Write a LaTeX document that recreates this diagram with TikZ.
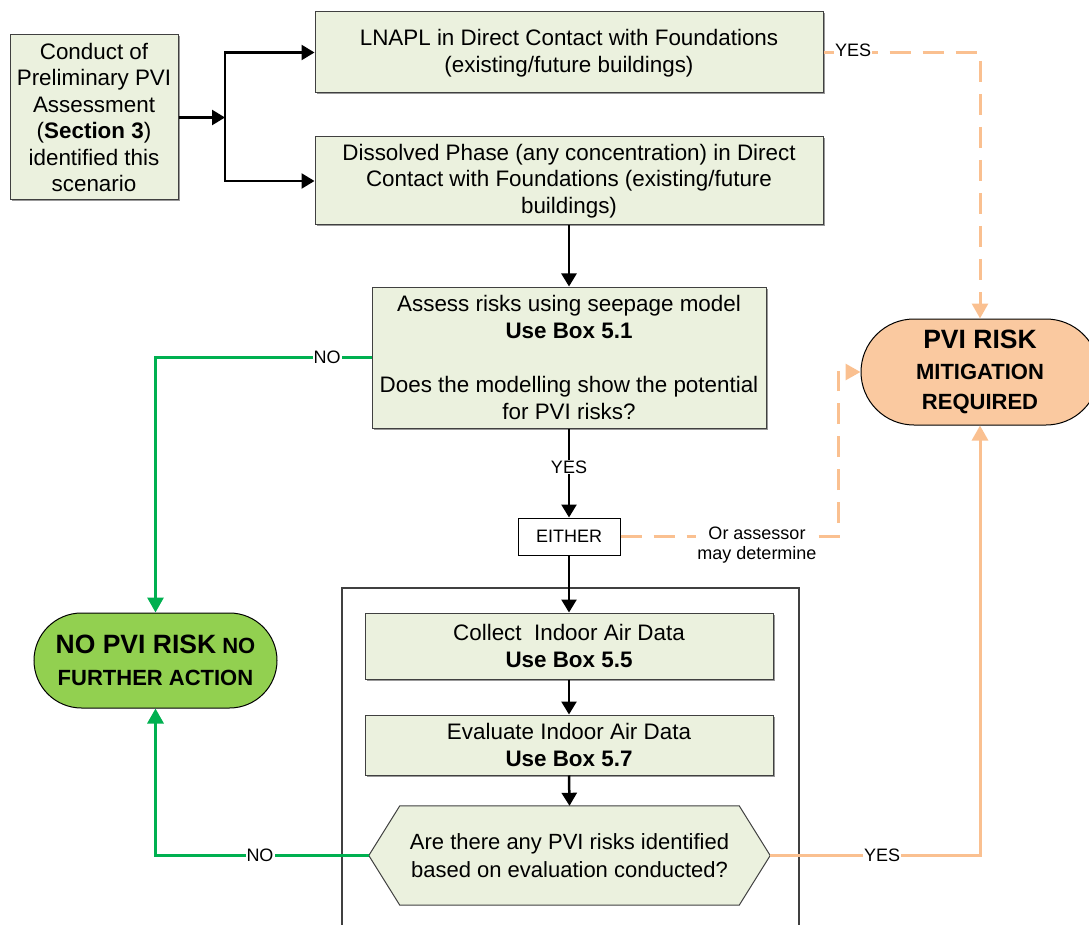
\documentclass[tikz,border=0pt]{standalone}
\usepackage{fontspec}
\setmainfont{Liberation Sans}
\usetikzlibrary{arrows.meta,backgrounds,shadows}
\definecolor{boxfill}{RGB}{235,241,222}
\definecolor{boxline}{RGB}{64,64,64}
\definecolor{okgreen}{RGB}{0,176,80}
\definecolor{riskline}{RGB}{250,192,144}
\definecolor{riskfill}{RGB}{250,201,160}
\definecolor{nofill}{RGB}{146,208,80}

\begin{document}
\begin{tikzpicture}[x=1pt,y=-1pt,
  boxshadow/.style={drop shadow={shadow xshift=1.5pt, shadow yshift=-1.5pt,
    fill=black!40, opacity=1}},
  stepbox/.style={draw=boxline, line width=1pt, fill=boxfill, align=center,
    inner sep=0pt, boxshadow, font=\fontsize{22.4}{26.5}\selectfont},
  plainbox/.style={draw=black, line width=1pt, fill=white, align=center,
    inner sep=0pt, font=\fontsize{18}{21}\selectfont},
  endnode/.style={draw=black, line width=1pt, align=center, inner sep=0pt},
  lbl/.style={fill=white, inner sep=1pt, font=\fontsize{18}{21}\selectfont},
  arr/.style={draw=black, line width=2.5pt, -{Triangle[length=13pt,width=15pt]}},
  greenarr/.style={draw=okgreen, line width=3pt, -{Triangle[length=15pt,width=16pt]}},
  riskarr/.style={draw=riskline, line width=3pt, -{Triangle[length=15pt,width=16pt]}},
  riskdash/.style={riskarr, dash pattern=on 21pt off 12pt},
]
\useasboundingbox (0,0) rectangle (1089,925);

% container around the indoor air steps
\draw[boxline, line width=1.2pt] (342,930) -- (342,588) -- (799,588) -- (799,930);

% process boxes
\node[stepbox, minimum width=168pt, minimum height=165pt] (start) at (94,117.5)
  {Conduct of\\Preliminary PVI\\Assessment\\(\textbf{Section 3})\\identified this\\scenario};
\node[stepbox, minimum width=508pt, minimum height=81pt, text depth=3pt] (lnapl) at (569,52.5)
  {LNAPL in Direct Contact with Foundations\\(existing/future buildings)};
\node[stepbox, minimum width=508pt, minimum height=88pt] (dissolved) at (569,181)
  {Dissolved Phase (any concentration) in Direct\\Contact with Foundations (existing/future\\buildings)};
\node[stepbox, minimum width=394pt, minimum height=141pt] (seepage) at (569,357.5)
  {Assess risks using seepage model\\\textbf{Use Box 5.1}\\[28pt]Does the modelling show the potential\\for PVI risks?};
\node[plainbox, minimum width=102pt, minimum height=37pt] (either) at (569,536.5) {EITHER};
\node[stepbox, minimum width=408pt, minimum height=66pt] (collect) at (569,646)
  {Collect\ \ Indoor Air Data\\\textbf{Use Box 5.5}};
\node[stepbox, minimum width=408pt, minimum height=60pt] (evaluate) at (569,745)
  {Evaluate Indoor Air Data\\\textbf{Use Box 5.7}};
\node[align=center, inner sep=0pt, minimum width=401pt, minimum height=99pt,
  font=\fontsize{22}{28}\selectfont] (hex) at (569.5,855.5)
  {Are there any PVI risks identified\\based on evaluation conducted?};
\begin{pgfonlayer}{background}
  \draw[boxline, line width=1pt, fill=boxfill]
    ([xshift=31pt]hex.north west) -- ([xshift=-31pt]hex.north east) -- (hex.east)
    -- ([xshift=-31pt]hex.south east) -- ([xshift=31pt]hex.south west) -- (hex.west) -- cycle;
\end{pgfonlayer}

% outcomes
\node[endnode, fill=riskfill, minimum width=238pt, minimum height=106pt,
  rounded corners=53pt, font=\fontsize{22}{30.5}\selectfont\bfseries] (pvi) at (980,372)
  {{\fontsize{26.5}{30.5}\selectfont PVI RISK}\\MITIGATION\\REQUIRED};
\node[endnode, fill=nofill, minimum width=243pt, minimum height=95pt,
  rounded corners=47.5pt, font=\fontsize{22}{32}\selectfont\bfseries] (nopvi) at (155.5,660.5)
  {{\fontsize{26.5}{32}\selectfont NO PVI RISK} NO\\FURTHER ACTION};

% black flow
\coordinate (split) at (225,117.5);
\draw[arr] (start.east) -- (split);
\draw[arr] (split) |- (lnapl.west);
\draw[arr] (split) |- (dissolved.west);
\draw[arr] (dissolved.south) -- (seepage.north);
\draw[arr] (seepage.south) -- (either.north);
\draw[arr] (either.south) -- (collect.north);
\draw[arr] (collect.south) -- (evaluate.north);
\draw[arr] (evaluate.south) -- (hex.north);

% no-risk branches
\draw[greenarr] (seepage.west) -| (nopvi.north);
\draw[greenarr] (hex.west) -| (nopvi.south);

% risk branches
\draw[riskdash] (lnapl.east) -| (pvi.north);
\coordinate (orbend) at (838,372);
\draw[riskdash] (either.east) -| (orbend) -- (pvi.west);
\draw[riskarr] (hex.east) -| (pvi.south);

% connector labels
\node[lbl] (ylnapl) at (853,50) {YES};
\node[lbl] (nseep) at (327,357) {NO};
\node[lbl] (yseep) at (569,467) {YES};
\node[lbl, align=center, font=\fontsize{18}{20}\selectfont] (orlbl) at (757,545) {Or assessor\\may determine};
\node[lbl] (nhex) at (260,855) {NO};
\node[lbl] (yhex) at (882,855) {YES};
\end{tikzpicture}
\end{document}
